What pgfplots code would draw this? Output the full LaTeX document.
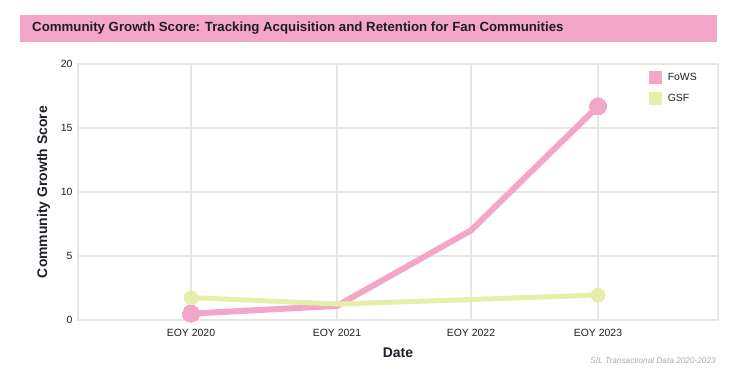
\documentclass[border=0pt]{standalone}
\usepackage{pgfplots}
\pgfplotsset{compat=1.18}
\usepackage{fontspec}
\setmainfont{Liberation Sans}
\definecolor{fpink}{HTML}{F4A6C8}
\definecolor{fgreen}{HTML}{E6EEAA}
\definecolor{gridc}{HTML}{E8E6E0}
\definecolor{txt}{HTML}{1E1E28}
\begin{document}
\begin{tikzpicture}[x=1bp,y=1bp]
\path[use as bounding box] (0,0) rectangle (735,379);
\fill[fpink] (20,337) rectangle (717,364);
\node[anchor=west,font=\bfseries\fontsize{13.3}{15}\selectfont,text=txt,inner sep=0] at (32,350.5) {Community Growth Score: Tracking Acquisition and Retention for Fan Communities};
\begin{axis}[
  name=ax,
  at={(78bp,59bp)}, anchor=south west,
  scale only axis, width=640bp, height=256bp,
  xmin=78, xmax=718, ymin=0, ymax=20,
  xtick={191,337,471,598},
  xticklabels={EOY 2020,EOY 2021,EOY 2022,EOY 2023},
  ytick={0,5,10,15,20},
  grid=major,
  grid style={gridc, line width=1.2bp},
  axis line style={gridc, line width=1.2bp},
  major tick length=0pt,
  tick label style={font=\fontsize{10.5}{12}\selectfont, text=txt},
  /pgf/number format/assume math mode=true,
  xticklabel style={yshift=-6bp},
  yticklabel style={xshift=-2bp},
  xlabel={Date}, ylabel={Community Growth Score},
  label style={font=\bfseries\fontsize{14}{16}\selectfont, text=txt},
  xlabel style={yshift=-4bp},
  ylabel style={yshift=4bp},
  legend style={at={(0.975,0.98)}, anchor=north east, draw=none, fill=none,
    font=\fontsize{10.5}{12}\selectfont, text=txt, row sep=8bp},
  legend cell align=left,
  legend image code/.code={\fill[#1, draw=none] (0bp,-6.5bp) rectangle (13bp,6.5bp); \path[draw=none, fill=none] (0bp,0bp) -- (17bp,0bp);},
]
\addplot[fpink, line width=6bp, line join=round]
  coordinates {(191,0.5) (337,1.1) (471,7.0) (598,16.7)};
\addlegendentry{FoWS}
\addplot[fgreen, line width=5bp, line join=round]
  coordinates {(191,1.75) (337,1.25) (471,1.6) (598,1.95)};
\addlegendentry{GSF}
\addplot[fgreen, only marks, mark=*, mark size=7bp, mark options={line width=0pt}, forget plot]
  coordinates {(191,1.75) (598,1.95)};
\addplot[fpink, only marks, mark=*, mark size=8.5bp, mark options={line width=0pt}, forget plot]
  coordinates {(191,0.5) (598,16.7)};
\end{axis}
\node[anchor=east,font=\itshape\fontsize{8.3}{9}\selectfont,text=gray!65,inner sep=0] at (716,18) {SIL Transactional Data 2020-2023};
\end{tikzpicture}
\end{document}
